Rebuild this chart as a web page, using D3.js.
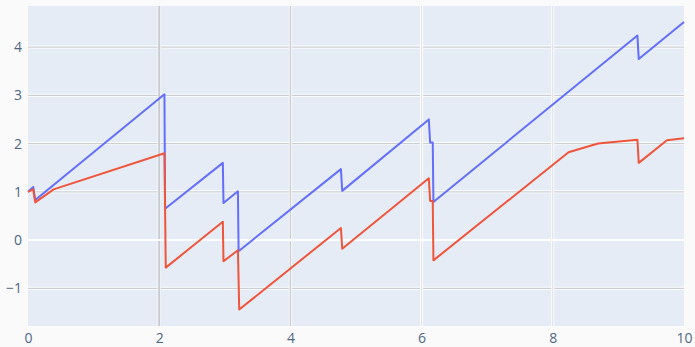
<!DOCTYPE html>
<html lang="en">
<head>
  <meta charset="UTF-8">
  <title>Sawtooth lines</title>
  <script src="https://d3js.org/d3.v7.min.js"></script>
  <style>
    body { margin: 0; background: #fafafa; }
    .line { fill: none; stroke-width: 2; stroke-linejoin: round; }
  </style>
</head>
<body>
  <svg width="695" height="347"></svg>
  <script>
    // values
    const blueX = [0, 0.08, 0.11, 2.08, 2.09, 2.97, 2.98, 3.2, 3.21, 4.77, 4.79, 6.11, 6.13, 6.17, 6.18, 9.29, 9.31, 10];
    const blueY = [1.0, 1.1, 0.83, 3.02, 0.65, 1.6, 0.77, 1.01, -0.23, 1.47, 1.02, 2.5, 2.02, 2.02, 0.79, 4.24, 3.75, 4.52];
    const redX = [0, 0.08, 0.11, 0.39, 2.08, 2.1, 2.97, 2.98, 3.2, 3.22, 4.77, 4.79, 6.11, 6.13, 6.17, 6.18, 8.24, 8.69, 9.29, 9.31, 9.74, 10];
    const redY = [1.0, 1.05, 0.78, 1.05, 1.8, -0.57, 0.38, -0.44, -0.21, -1.44, 0.25, -0.18, 1.28, 0.81, 0.81, -0.42, 1.82, 2.0, 2.08, 1.6, 2.07, 2.11];
    const xTicks = [0, 2, 4, 6, 8, 10];
    const yTicks = [-1, 0, 1, 2, 3, 4];

    const svg = d3.select("svg"),
          margin = {top: 6, right: 11, bottom: 21, left: 28},
          width = +svg.attr("width") - margin.left - margin.right,
          height = +svg.attr("height") - margin.top - margin.bottom,
          g = svg.append("g").attr("transform", `translate(${margin.left},${margin.top})`);

    const x = d3.scaleLinear().domain([0, 10]).range([0, width]);
    const y = d3.scaleLinear().domain([-1.78, 4.85]).range([height, 0]);

    g.append("rect").attr("width", width).attr("height", height).attr("fill", "#e5ecf6");

    // horizontal grid
    yTicks.filter(t => t !== 0).forEach(t => {
      g.append("line").attr("x1", 0).attr("x2", width).attr("y1", y(t)).attr("y2", y(t))
        .attr("stroke", "#fff").attr("stroke-width", 3);
      g.append("line").attr("x1", 0).attr("x2", width).attr("y1", y(t)).attr("y2", y(t))
        .attr("stroke", "#cbcfd4").attr("stroke-width", 1.2);
    });

    // vertical grid
    const vStyle = {2: ["#c8cacd", 2], 4: ["#cbcdd0", 1.5], 6: ["#dde1e7", 1], 8: ["#d6dae0", 1]};
    xTicks.filter(t => t > 0 && t < 10).forEach(t => {
      g.append("line").attr("x1", x(t)).attr("x2", x(t)).attr("y1", 0).attr("y2", height)
        .attr("stroke", "#fff").attr("stroke-width", 3);
      g.append("line").attr("x1", x(t)).attr("x2", x(t)).attr("y1", 0).attr("y2", height)
        .attr("stroke", vStyle[t][0]).attr("stroke-width", vStyle[t][1]);
    });

    // zero line
    g.append("line").attr("x1", 0).attr("x2", width).attr("y1", y(0)).attr("y2", y(0))
      .attr("stroke", "#fff").attr("stroke-width", 2);

    const fmt = d => d < 0 ? "\u2212" + Math.abs(d) : d;
    const styleTicks = a => {
      a.select(".domain").remove();
      a.attr("font-family", "'Open Sans', sans-serif").attr("font-size", 14);
      a.selectAll("text").attr("fill", "#506784");
    };

    g.append("g")
      .attr("transform", `translate(0,${height})`)
      .call(d3.axisBottom(x).tickValues(xTicks).tickFormat(fmt).tickSize(0).tickPadding(7))
      .call(styleTicks);

    g.append("g")
      .call(d3.axisLeft(y).tickValues(yTicks).tickFormat(fmt).tickSize(0).tickPadding(6))
      .call(styleTicks);

    const line = d3.line().x(d => x(d[0])).y(d => y(d[1]));

    g.append("path").datum(d3.zip(blueX, blueY))
      .attr("class", "line").attr("stroke", "#636efa").attr("d", line);

    g.append("path").datum(d3.zip(redX, redY))
      .attr("class", "line").attr("stroke", "#ef553b").attr("d", line);
  </script>
</body>
</html>
